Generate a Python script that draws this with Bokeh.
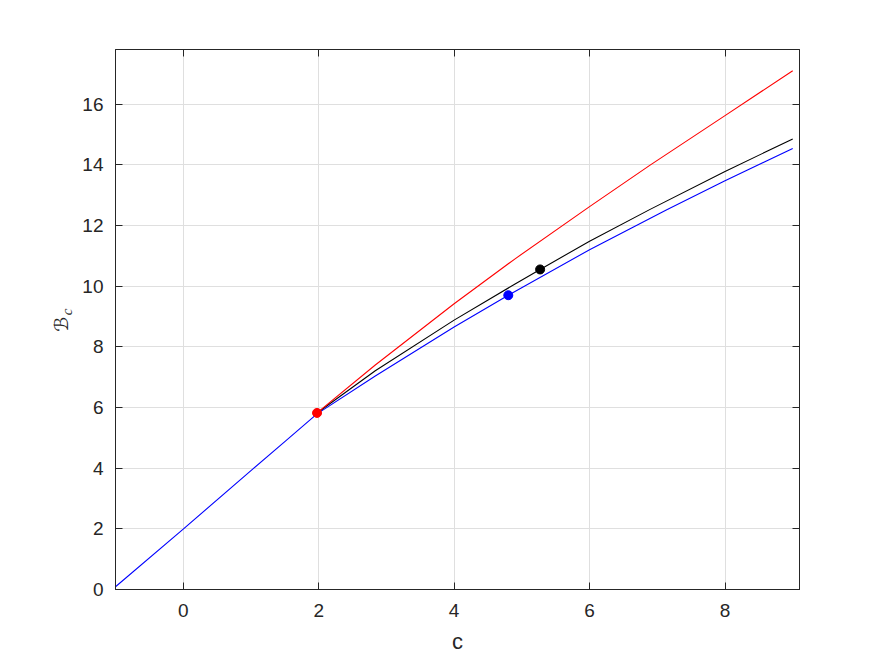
from bokeh.plotting import figure
from bokeh.models import Range1d, LinearAxis, FixedTicker, CustomJSTickFormatter
from bokeh.embed import file_html
from bokeh.resources import INLINE

# ---- data ----
blue_c = [-1.0, 0.0, 1.0, 1.513, 1.976, 2.836, 4.0, 4.80, 6.0, 7.14, 8.0, 9.0]
blue_B = [0.09, 1.99, 3.92, 4.90, 5.79, 7.04, 8.65, 9.70, 11.20, 12.52, 13.47, 14.54]

black_c = [1.976, 2.836, 4.0, 4.90, 5.27, 6.0, 6.894, 8.0, 9.0]
black_B = [5.82, 7.21, 8.88, 10.07, 10.55, 11.48, 12.53, 13.78, 14.85]

red_c = [1.976, 2.836, 4.0, 4.90, 6.0, 6.894, 8.0, 9.0]
red_B = [5.82, 7.40, 9.42, 10.90, 12.62, 13.99, 15.62, 17.10]

red_pt_c, red_pt_B = [1.976], [5.82]
blue_pt_c, blue_pt_B = [4.80], [9.70]
black_pt_c, black_pt_B = [5.27], [10.55]

x_ticks = [0, 2, 4, 6, 8]
y_ticks = [0, 2, 4, 6, 8, 10, 12, 14, 16]
x_label = "c"
y_label_main = "ℬ\u2002"
y_label_sub = "\u2003c"

AX = "#262626"
GRID = "#dfdfdf"
FONT = "Liberation Sans"

p = figure(frame_width=684, frame_height=540,
           x_range=Range1d(-1, 9.1), y_range=Range1d(0, 17.8),
           output_backend="svg", toolbar_location=None,
           min_border_left=115, min_border_top=49,
           min_border_right=80, min_border_bottom=68,
           background_fill_color="white", border_fill_color="white")
p.outline_line_color = AX
p.outline_line_width = 1

p.xaxis.ticker = FixedTicker(ticks=x_ticks)
p.yaxis.ticker = FixedTicker(ticks=y_ticks)
p.xgrid.ticker = FixedTicker(ticks=x_ticks)
p.ygrid.ticker = FixedTicker(ticks=y_ticks)
p.grid.grid_line_color = GRID
p.grid.grid_line_width = 1

def style_axis(ax):
    ax.axis_line_color = AX
    ax.axis_line_width = 1
    ax.major_tick_line_color = AX
    ax.major_tick_line_width = 1
    ax.major_tick_in = 7
    ax.major_tick_out = 0
    ax.minor_tick_line_color = None
    ax.major_label_text_font = FONT
    ax.major_label_text_font_size = "19px"
    ax.major_label_text_color = AX

for ax in p.xaxis + p.yaxis:
    style_axis(ax)
p.xaxis.major_label_standoff = 14
p.yaxis.major_label_standoff = 12

p.xaxis.axis_label = x_label
p.xaxis.axis_label_text_font = FONT
p.xaxis.axis_label_text_font_style = "normal"
p.xaxis.axis_label_text_font_size = "22px"
p.xaxis.axis_label_text_color = AX
p.xaxis.axis_label_standoff = 9

# subscript "c" of the y label (closest to the axis)
p.yaxis.axis_label = y_label_sub
p.yaxis.axis_label_text_font = "Liberation Serif"
p.yaxis.axis_label_text_font_style = "italic"
p.yaxis.axis_label_text_font_size = "15px"
p.yaxis.axis_label_text_color = AX
p.yaxis.axis_label_standoff = 4

blank = CustomJSTickFormatter(code="return ''")

# script B of the y label, on an undecorated extra axis
lab_ax = LinearAxis(ticker=FixedTicker(ticks=[]), formatter=blank)
lab_ax.axis_line_color = None
lab_ax.major_tick_line_color = None
lab_ax.minor_tick_line_color = None
lab_ax.major_tick_in = 0
lab_ax.major_tick_out = 0
lab_ax.major_label_standoff = 0
lab_ax.axis_label = y_label_main
lab_ax.axis_label_text_font = "DejaVu Sans"
lab_ax.axis_label_text_font_style = "normal"
lab_ax.axis_label_text_font_size = "19px"
lab_ax.axis_label_text_color = AX
lab_ax.axis_label_standoff = -15
p.add_layout(lab_ax, "left")

top_ax = LinearAxis(ticker=FixedTicker(ticks=x_ticks), formatter=blank)
right_ax = LinearAxis(ticker=FixedTicker(ticks=y_ticks), formatter=blank)
style_axis(top_ax)
style_axis(right_ax)
p.add_layout(top_ax, "above")
p.add_layout(right_ax, "right")

p.line(blue_c, blue_B, line_color="#0000ff", line_width=1.1)
p.line(black_c, black_B, line_color="#000000", line_width=1.1)
p.line(red_c, red_B, line_color="#ff0000", line_width=1.1)

p.scatter(red_pt_c, red_pt_B, size=9, color="#ff0000")
p.scatter(blue_pt_c, blue_pt_B, size=9, color="#0000ff")
p.scatter(black_pt_c, black_pt_B, size=9, color="#000000")

open("out.html", "w").write(file_html(p, INLINE))
